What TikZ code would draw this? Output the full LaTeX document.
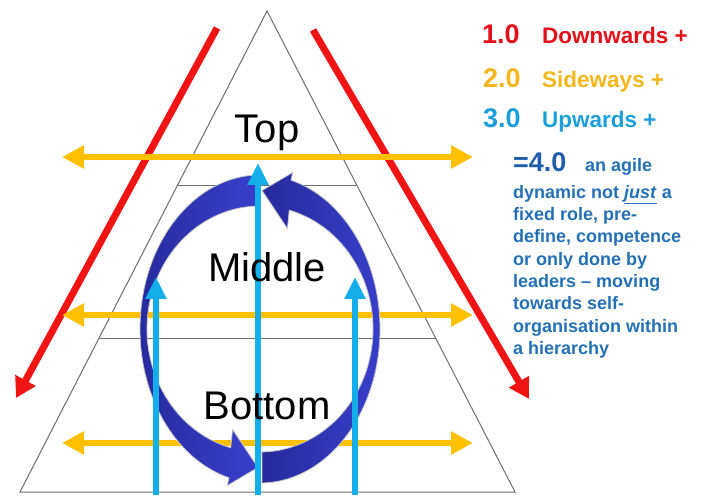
\documentclass[tikz,border=0pt]{standalone}
\usepackage{fontspec}
\setmainfont{Liberation Sans}
\usetikzlibrary{arrows.meta,calc,positioning}
\definecolor{EdgeGrey}{HTML}{6E6E6E}
\definecolor{DownRed}{HTML}{F01414}
\definecolor{SideGold}{HTML}{FFC000}
\definecolor{UpCyan}{HTML}{14AEEA}
\definecolor{CycleBlue}{HTML}{3A3FCC}
\definecolor{CycleDark}{HTML}{262A9C}
\definecolor{TextRed}{HTML}{E2101A}
\definecolor{TextGold}{HTML}{F4B71C}
\definecolor{TextCyan}{HTML}{1C9FDB}
\definecolor{TextBlue}{HTML}{2470B5}
\definecolor{DeepBlue}{HTML}{1F5DAA}
\tikzset{
  tri/.style={draw=EdgeGrey,line width=1pt},
  lvl/.style={font=\fontsize{40}{44}\selectfont,text=black,inner sep=0pt,anchor=base},
  down/.style={-{Triangle[length=20pt,width=22pt]},line width=7pt,DownRed},
  side/.style={{Triangle[length=22pt,width=22pt]}-{Triangle[length=22pt,width=22pt]},line width=6pt,SideGold},
  up/.style={-{Triangle[length=22pt,width=20pt]},line width=6pt,UpCyan},
  cyc/.style={left color=CycleDark,right color=CycleBlue,draw=gray!45,line width=0.8pt},
  num/.style={font=\bfseries\fontsize{27}{30}\selectfont,inner sep=0pt,anchor=base west},
  word/.style={font=\bfseries\fontsize{22.5}{26}\selectfont,inner sep=0pt,anchor=base west},
  small/.style={font=\bfseries\fontsize{18}{22.3}\selectfont,inner sep=0pt,text=TextBlue}
}
\begin{document}
\begin{tikzpicture}[x=1pt,y=1pt]
  \useasboundingbox (0,0) rectangle (701,495);
  % pyramid
  \coordinate (apex) at (267,484);
  \coordinate (bl) at (20,3);
  \coordinate (br) at (515,3);
  \draw[tri] (apex)--(bl)--(br)--cycle;
  \draw[tri] ($(apex)!0.362!(bl)$)--($(apex)!0.362!(br)$);
  \draw[tri] ($(apex)!0.680!(bl)$)--($(apex)!0.680!(br)$);

  % downwards
  \coordinate (dl0) at (217,467); \coordinate (dl1) at (16,97);
  \coordinate (dr0) at (313,465); \coordinate (dr1) at (529,96);
  \draw[down] (dl0)--(dl1);
  \draw[down] (dr0)--(dr1);

  % sideways
  \foreach \y/\n in {338/a,180/b,52/c}{
    \coordinate (sw\n) at (62,\y); \coordinate (se\n) at (473,\y);
    \draw[side] (sw\n)--(se\n);
  }

  % cycle
  \coordinate (c) at (260,166);
  \path[cyc] ($(c)+(91:120 and 154)$) arc[start angle=91,end angle=255,x radius=120,y radius=154]
    -- ($(c)+(255:126 and 162)$) -- ($(c)+(269:116.5 and 138.5)$)
    -- ($(c)+(255:106 and 104)$) -- ($(c)+(255:113 and 123)$)
    arc[start angle=255,end angle=91,x radius=113,y radius=123] -- cycle;
  \path[cyc] ($(c)+(271:120 and 154)$) arc[start angle=271,end angle=435,x radius=120,y radius=154]
    -- ($(c)+(75:126 and 162)$) -- ($(c)+(89:116.5 and 138.5)$)
    -- ($(c)+(75:106 and 104)$) -- ($(c)+(75:113 and 123)$)
    arc[start angle=435,end angle=271,x radius=113,y radius=123] -- cycle;

  % upwards
  \foreach \x/\h/\n in {156/218/l,258/332/m,355/218/r}{
    \coordinate (u\n0) at (\x,0); \coordinate (u\n1) at (\x,\h);
    \draw[up] (u\n0)--(u\n1);
  }

  \node[lvl] (top) at (267,352) {Top};
  \node[lvl] (mid) at (267,213.5) {Middle};
  \node[lvl] (bot) at (267,75) {Bottom};

  % legend
  \node[num,text=TextRed] (n1) at (482,451) {1.0};
  \node[word,text=TextRed] (w1) at (542,451) {Downwards +};
  \node[num,text=TextGold] (n2) at (483,407) {2.0};
  \node[word,text=TextGold] (w2) at (542,407) {Sideways +};
  \node[num,text=TextCyan] (n3) at (483,367) {3.0};
  \node[word,text=TextCyan] (w3) at (542,367) {Upwards +};
  \node[num,text=DeepBlue] (n4) at (513,323) {=4.0};
  \node[small,anchor=base west] (w4) at (585,323) {an agile};
  \node[small,anchor=north west,align=left] (desc) at (513,310)
    {dynamic not \underline{\textit{just}} a\\fixed role, pre-\\define, competence\\or only done by\\leaders – moving\\towards self-\\organisation within\\a hierarchy};
\end{tikzpicture}
\end{document}
